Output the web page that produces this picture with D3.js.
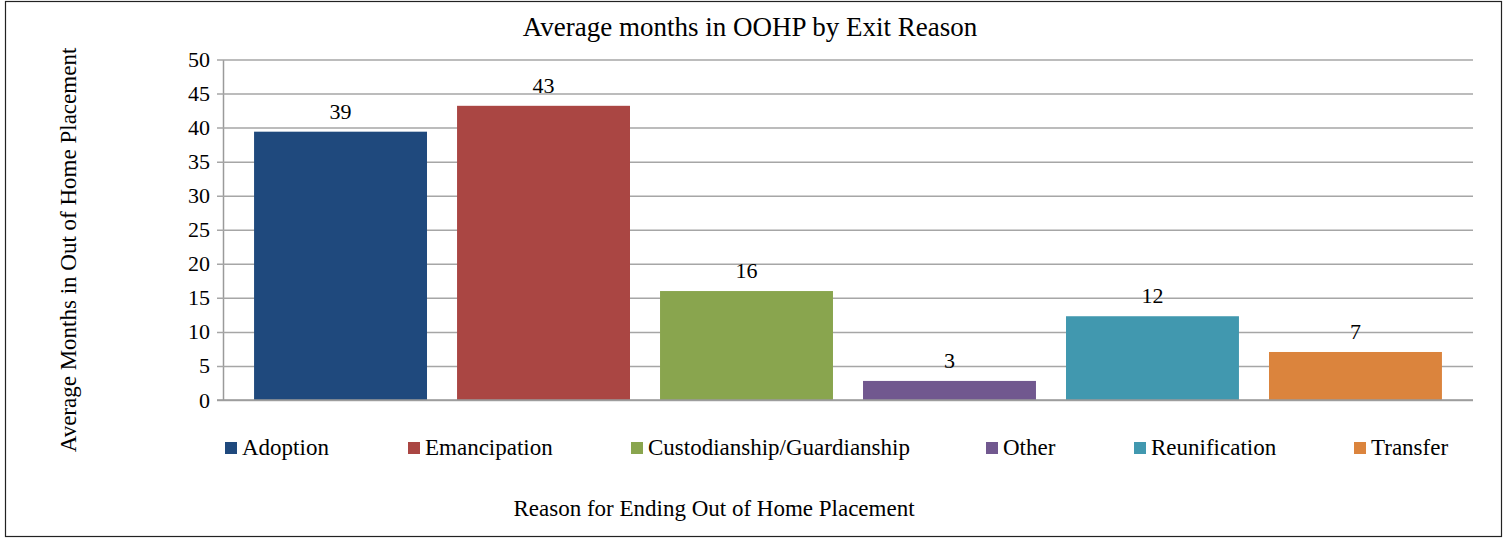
<!DOCTYPE html>
<html>
<head>
<meta charset="utf-8">
<script src="https://cdn.jsdelivr.net/npm/d3@7/dist/d3.min.js"></script>
<style>
  html, body { margin: 0; padding: 0; background: #fff; }
  svg { display: block; }
</style>
</head>
<body>
<svg id="chart" width="1507" height="542"></svg>
<script>
// Exit reasons and average months spent in out-of-home placement
const categories = ["Adoption", "Emancipation", "Custodianship/Guardianship", "Other", "Reunification", "Transfer"];
const months = [39.4, 43.2, 16.0, 2.8, 12.3, 7.05];
const colors = ["#1f497d", "#aa4643", "#89a54e", "#71588f", "#4198af", "#db843d"];
const yTicks = [0, 5, 10, 15, 20, 25, 30, 35, 40, 45, 50];

const SERIF = '"Liberation Serif"';

const svg = d3.select("#chart");
const plot = { left: 223, right: 1473, top: 59.5, bottom: 400 };

// outer frame
svg.append("rect")
  .attr("x", 5.5).attr("y", 1.5)
  .attr("width", 1496).attr("height", 535)
  .attr("fill", "#fff").attr("stroke", "#222").attr("stroke-width", 1.2);

const x = d3.scaleBand()
  .domain(categories)
  .range([plot.left, plot.right])
  .paddingInner(0.148)
  .paddingOuter(0.153);

const y = d3.scaleLinear()
  .domain([0, 50])
  .range([plot.bottom, plot.top]);

// horizontal gridlines with short ticks left of the axis
const yAxis = d3.axisLeft(y)
  .tickValues(yTicks)
  .tickSize(-(plot.right - plot.left))
  .tickSizeOuter(0)
  .tickPadding(13)
  .tickFormat(d3.format("d"));

const gy = svg.append("g")
  .attr("transform", `translate(${plot.left},0)`)
  .call(yAxis)
  .attr("font-family", SERIF)
  .attr("font-size", 22);
gy.select(".domain").attr("stroke", "#9a9a9a").attr("stroke-width", 1.5);
gy.selectAll(".tick line")
  .attr("x1", -6)
  .attr("stroke", "#a6a6a6").attr("stroke-width", 1.5);
gy.selectAll(".tick text")
  .attr("font-family", SERIF)
  .attr("font-size", 22)
  .attr("fill", "#000");

// bars
svg.append("g").selectAll("rect")
  .data(categories)
  .join("rect")
  .attr("x", d => x(d))
  .attr("width", x.bandwidth())
  .attr("y", (d, i) => y(months[i]))
  .attr("height", (d, i) => y(0) - y(months[i]))
  .attr("fill", (d, i) => colors[i]);

// value labels
const fmt = d3.format(".0f");
svg.append("g").selectAll("text")
  .data(categories)
  .join("text")
  .attr("x", d => x(d) + x.bandwidth() / 2)
  .attr("y", (d, i) => y(months[i]) - 13)
  .attr("text-anchor", "middle")
  .attr("font-family", SERIF)
  .attr("font-size", 22)
  .attr("fill", "#000")
  .text((d, i) => fmt(months[i]));

// baseline redrawn on top of bars
svg.append("line")
  .attr("x1", plot.left - 6).attr("x2", plot.right)
  .attr("y1", y(0)).attr("y2", y(0))
  .attr("stroke", "#9a9a9a").attr("stroke-width", 1.5);

// title
svg.append("text")
  .attr("x", 750).attr("y", 36)
  .attr("text-anchor", "middle")
  .attr("font-family", SERIF)
  .attr("font-size", 27)
  .attr("fill", "#000")
  .text("Average months in OOHP by Exit Reason");

// y-axis title
svg.append("text")
  .attr("transform", "translate(76,250) rotate(-90)")
  .attr("text-anchor", "middle")
  .attr("font-family", SERIF)
  .attr("font-size", 23)
  .attr("fill", "#000")
  .text("Average Months in Out of Home Placement");

// x-axis title
svg.append("text")
  .attr("x", 714).attr("y", 516)
  .attr("text-anchor", "middle")
  .attr("font-family", SERIF)
  .attr("font-size", 23)
  .attr("fill", "#000")
  .text("Reason for Ending Out of Home Placement");

// legend
const legendX = [225, 408, 631, 986, 1134, 1354];
const lg = svg.append("g").selectAll("g")
  .data(categories)
  .join("g")
  .attr("transform", (d, i) => `translate(${legendX[i]},442)`);
lg.append("rect")
  .attr("width", 12).attr("height", 12)
  .attr("fill", (d, i) => colors[i]);
lg.append("text")
  .attr("x", 17).attr("y", 13)
  .attr("font-family", SERIF)
  .attr("font-size", 23)
  .attr("fill", "#000")
  .text(d => d);
</script>
</body>
</html>
